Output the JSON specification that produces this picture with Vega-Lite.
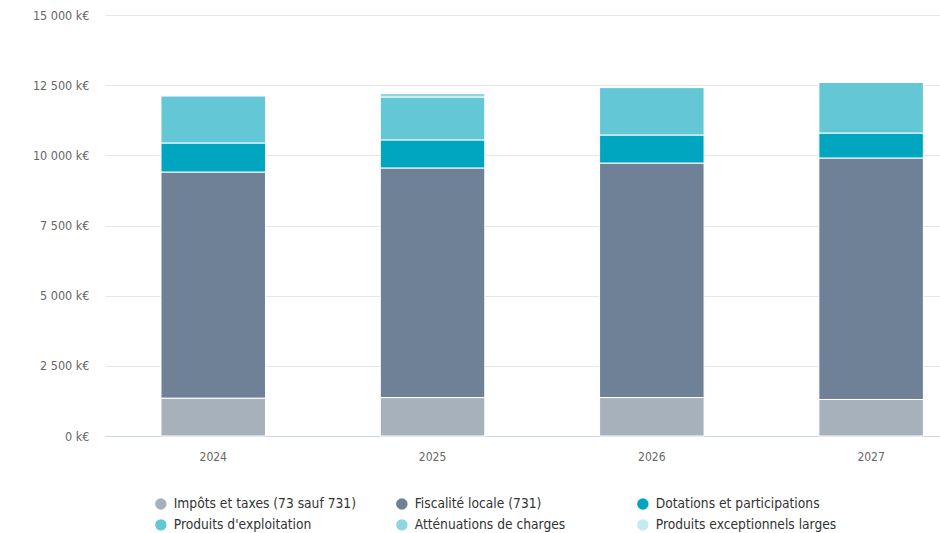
{
  "$schema": "https://vega.github.io/schema/vega-lite/v6.json",
  "width": 835,
  "height": 421,
  "autosize": {"type": "none"},
  "padding": {"left": 105, "top": 15, "right": 0, "bottom": 97},
  "background": "white",
  "config": {"view": {"stroke": null}, "font": "DejaVu Sans Condensed"},
  "data": {
    "values": [
      {"annee": "2024", "categorie": "Impôts et taxes (73 sauf 731)", "k": 1, "valeur": 1350},
      {"annee": "2024", "categorie": "Fiscalité locale (731)", "k": 2, "valeur": 8055},
      {"annee": "2024", "categorie": "Dotations et participations", "k": 3, "valeur": 1035},
      {"annee": "2024", "categorie": "Produits d'exploitation", "k": 4, "valeur": 1680},
      {"annee": "2024", "categorie": "Atténuations de charges", "k": 5, "valeur": 30},
      {"annee": "2024", "categorie": "Produits exceptionnels larges", "k": 6, "valeur": 10},
      {"annee": "2025", "categorie": "Impôts et taxes (73 sauf 731)", "k": 1, "valeur": 1370},
      {"annee": "2025", "categorie": "Fiscalité locale (731)", "k": 2, "valeur": 8180},
      {"annee": "2025", "categorie": "Dotations et participations", "k": 3, "valeur": 1000},
      {"annee": "2025", "categorie": "Produits d'exploitation", "k": 4, "valeur": 1530},
      {"annee": "2025", "categorie": "Atténuations de charges", "k": 5, "valeur": 130},
      {"annee": "2025", "categorie": "Produits exceptionnels larges", "k": 6, "valeur": 10},
      {"annee": "2026", "categorie": "Impôts et taxes (73 sauf 731)", "k": 1, "valeur": 1370},
      {"annee": "2026", "categorie": "Fiscalité locale (731)", "k": 2, "valeur": 8355},
      {"annee": "2026", "categorie": "Dotations et participations", "k": 3, "valeur": 1000},
      {"annee": "2026", "categorie": "Produits d'exploitation", "k": 4, "valeur": 1690},
      {"annee": "2026", "categorie": "Atténuations de charges", "k": 5, "valeur": 20},
      {"annee": "2026", "categorie": "Produits exceptionnels larges", "k": 6, "valeur": 10},
      {"annee": "2027", "categorie": "Impôts et taxes (73 sauf 731)", "k": 1, "valeur": 1300},
      {"annee": "2027", "categorie": "Fiscalité locale (731)", "k": 2, "valeur": 8605},
      {"annee": "2027", "categorie": "Dotations et participations", "k": 3, "valeur": 890},
      {"annee": "2027", "categorie": "Produits d'exploitation", "k": 4, "valeur": 1800},
      {"annee": "2027", "categorie": "Atténuations de charges", "k": 5, "valeur": 20},
      {"annee": "2027", "categorie": "Produits exceptionnels larges", "k": 6, "valeur": 10}
    ]
  },
  "mark": {"type": "bar", "stroke": "white", "strokeWidth": 1},
  "encoding": {
    "x": {
      "field": "annee",
      "type": "nominal",
      "scale": {"paddingInner": 0.5235, "paddingOuter": 0.1656, "align": 0.771},
      "axis": {
        "title": null,
        "labelAngle": 0,
        "domainColor": "#ccd6eb",
        "ticks": false,
        "labelColor": "#666666",
        "labelFontSize": 12,
        "labelPadding": 15
      }
    },
    "y": {
      "field": "valeur",
      "type": "quantitative",
      "stack": "zero",
      "scale": {"domain": [0, 15000], "nice": false},
      "axis": {
        "title": null,
        "values": [0, 2500, 5000, 7500, 10000, 12500, 15000],
        "labelExpr": "replace(format(datum.value, ','), regexp(',', 'g'), ' ') + ' k€'",
        "domain": false,
        "ticks": false,
        "gridColor": "#e6e6e6",
        "labelPadding": 16,
        "labelColor": "#666666",
        "labelFontSize": 12.5
      }
    },
    "color": {
      "field": "categorie",
      "type": "nominal",
      "scale": {
        "domain": ["Impôts et taxes (73 sauf 731)", "Fiscalité locale (731)", "Dotations et participations", "Produits d'exploitation", "Atténuations de charges", "Produits exceptionnels larges"],
        "range": ["#a7b1bc", "#6e8196", "#00a6bf", "#63c7d6", "#8fd6e1", "#c5eaf0"]
      },
      "legend": {
        "title": null,
        "orient": "none",
        "legendX": 49,
        "legendY": 482,
        "direction": "horizontal",
        "columns": 3,
        "gridAlign": "all",
        "columnPadding": 39,
        "rowPadding": 6,
        "symbolType": "circle",
        "symbolSize": 130,
        "symbolStrokeWidth": 0,
        "labelFontSize": 13.7,
        "labelColor": "#333333",
        "labelOffset": 6,
        "labelLimit": 300
      }
    },
    "order": {"field": "k", "type": "quantitative"}
  }
}
